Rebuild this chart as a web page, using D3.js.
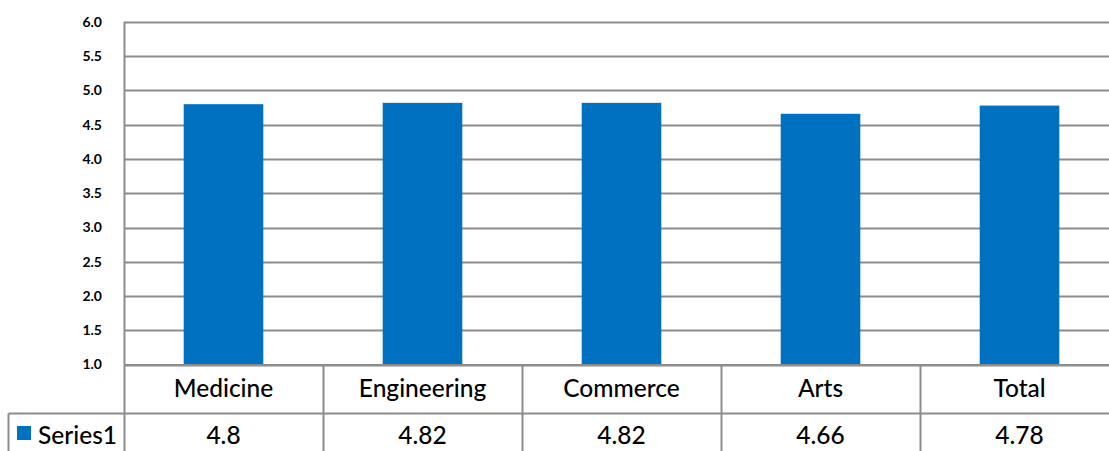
<!DOCTYPE html>
<html>
<head>
<meta charset="utf-8">
<script src="https://cdn.jsdelivr.net/npm/d3@7/dist/d3.min.js"></script>
<style>
  html, body { margin: 0; padding: 0; background: #fff; }
  svg { display: block; }
  text { font-family: Lato, "DejaVu Sans", sans-serif; fill: #000; }
</style>
</head>
<body>
<svg id="chart" width="1109" height="451"></svg>
<script>
// Mean scores by stream
const categories = ["Medicine", "Engineering", "Commerce", "Arts", "Total"];
const seriesName = "Series1";
const values = [4.8, 4.82, 4.82, 4.66, 4.78];
const tickValues = [1.0, 1.5, 2.0, 2.5, 3.0, 3.5, 4.0, 4.5, 5.0, 5.5, 6.0];

const W = 1109, H = 451;
const plot = { left: 124, right: 1119, top: 22, bottom: 364.5 };
const rowSplit = 413.5;   // line between category row and value row
const legendLeft = 8.5;
const gridColor = "#8c8c8c";
const barColor = "#0070C0";
const tableFont = 24.5;

const svg = d3.select("#chart");

const x = d3.scaleBand()
  .domain(categories)
  .range([plot.left, plot.right])
  .paddingInner(0.6)
  .paddingOuter(0.3);

const xCell = d3.scaleBand()
  .domain(categories)
  .range([plot.left, plot.right]);

const y = d3.scaleLinear()
  .domain([1.0, 6.0])
  .range([plot.bottom, plot.top]);

// Horizontal gridlines
svg.append("g")
  .selectAll("line")
  .data(tickValues)
  .join("line")
  .attr("x1", plot.left)
  .attr("x2", W)
  .attr("y1", d => Math.round(y(d)) + 0.5)
  .attr("y2", d => Math.round(y(d)) + 0.5)
  .attr("stroke", gridColor)
  .attr("stroke-width", 2);

// Value axis line
svg.append("line")
  .attr("x1", plot.left + 0.5).attr("x2", plot.left + 0.5)
  .attr("y1", plot.top).attr("y2", plot.bottom)
  .attr("stroke", gridColor).attr("stroke-width", 2);

// Tick labels
const yAxis = d3.axisLeft(y)
  .tickValues(tickValues)
  .tickFormat(d3.format(".1f"))
  .tickSize(0)
  .tickPadding(0);

const yg = svg.append("g")
  .attr("transform", `translate(102,0)`)
  .call(yAxis);
yg.select(".domain").remove();
yg.selectAll("text")
  .attr("font-size", 14)
  .attr("font-weight", 700)
  .attr("font-family", "Lato, sans-serif")
  .attr("fill", "#000");

// Bars
svg.append("g")
  .selectAll("rect")
  .data(values)
  .join("rect")
  .attr("x", (d, i) => x(categories[i]))
  .attr("width", x.bandwidth())
  .attr("y", d => y(d))
  .attr("height", d => y(1.0) - y(d))
  .attr("fill", barColor);

// Data table below the plot
const table = svg.append("g");

// Row separator lines
table.append("line")
  .attr("x1", plot.left).attr("x2", W)
  .attr("y1", plot.bottom + 0.5).attr("y2", plot.bottom + 0.5)
  .attr("stroke", gridColor).attr("stroke-width", 2);
table.append("line")
  .attr("x1", legendLeft).attr("x2", W)
  .attr("y1", rowSplit).attr("y2", rowSplit)
  .attr("stroke", gridColor).attr("stroke-width", 2);

// Column dividers
const dividers = categories.map(c => xCell(c));
table.selectAll("line.col")
  .data(dividers)
  .join("line")
  .attr("class", "col")
  .attr("x1", d => d + 0.5).attr("x2", d => d + 0.5)
  .attr("y1", plot.bottom).attr("y2", H)
  .attr("stroke", gridColor).attr("stroke-width", 2);

// Legend cell left edge
table.append("line")
  .attr("x1", legendLeft).attr("x2", legendLeft)
  .attr("y1", rowSplit).attr("y2", H)
  .attr("stroke", gridColor).attr("stroke-width", 2);

// Category labels
table.selectAll("text.cat")
  .data(categories)
  .join("text")
  .attr("class", "cat")
  .attr("x", d => xCell(d) + xCell.bandwidth() / 2)
  .attr("y", 397)
  .attr("text-anchor", "middle")
  .attr("font-size", tableFont)
  .attr("font-weight", 500)
  .text(d => d);

// Value labels
table.selectAll("text.val")
  .data(values)
  .join("text")
  .attr("class", "val")
  .attr("x", (d, i) => xCell(categories[i]) + xCell.bandwidth() / 2)
  .attr("y", 444)
  .attr("text-anchor", "middle")
  .attr("font-size", tableFont)
  .attr("font-weight", 500)
  .text(d => String(d));

// Legend key
table.append("rect")
  .attr("x", 17).attr("y", 426)
  .attr("width", 14).attr("height", 14)
  .attr("fill", barColor);
table.append("text")
  .attr("x", 38).attr("y", 444)
  .attr("font-size", tableFont)
  .attr("font-weight", 500)
  .text(seriesName);
</script>
</body>
</html>
